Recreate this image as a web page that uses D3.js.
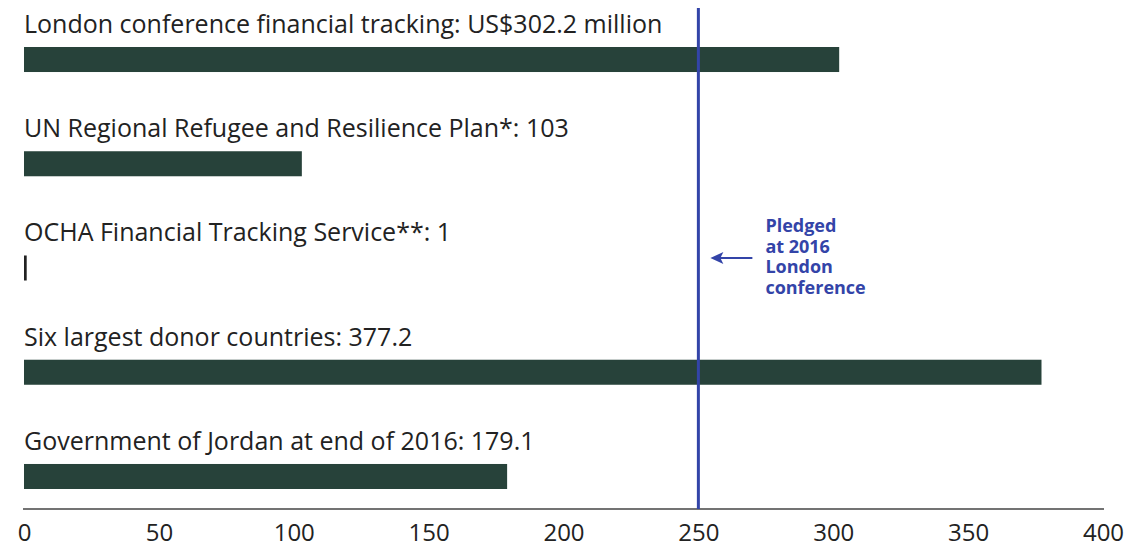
<!DOCTYPE html>
<html>
<head>
<meta charset="utf-8">
<script src="https://cdn.jsdelivr.net/npm/d3@7"></script>
<style>
  body { margin: 0; background: #fff; }
  svg { display: block; font-family: "Open Sans", sans-serif; }
</style>
</head>
<body>
<svg></svg>
<script>
// Chart size
const width = 1132, height = 550;
const svg = d3.select("svg").attr("width", width).attr("height", height);

// Data
const categories = [
    "London conference financial tracking",
    "UN Regional Refugee and Resilience Plan*",
    "OCHA Financial Tracking Service**",
    "Six largest donor countries",
    "Government of Jordan at end of 2016"
];
const values = [302.2, 103, 1, 377.2, 179.1];
const valueLabels = ["US$302.2 million", "103", "1", "377.2", "179.1"];
const xTicks = [0, 50, 100, 150, 200, 250, 300, 350, 400];
const pledged = 250;
const noteLines = ["Pledged", "at 2016", "London", "conference"];

const data = categories.map((c, i) => ({ name: c, value: values[i], label: valueLabels[i] }));

// Scales
const x = d3.scaleLinear().domain([0, 400]).range([24, 1103]);
const y = d3.scaleBand()
    .domain(categories)
    .range([47, 489])
    .paddingInner(0.76)
    .paddingOuter(0);

const axisY = 509;

// Bars
svg.selectAll("rect.bar")
    .data(data)
    .enter().append("rect")
    .attr("class", "bar")
    .attr("x", x(0))
    .attr("y", d => y(d.name))
    .attr("width", d => Math.max(2, x(d.value) - x(0)))
    .attr("height", y.bandwidth())
    .attr("fill", d => d.value < 5 ? "#222" : "#27423a");

// Labels above bars
svg.selectAll("text.cat")
    .data(data)
    .enter().append("text")
    .attr("class", "cat")
    .attr("x", x(0))
    .attr("y", d => y(d.name) - 14)
    .attr("font-size", "25px")
    .attr("fill", "#222")
    .text(d => d.name + ": " + d.label);

// Axis
const axis = d3.axisBottom(x).tickValues(xTicks).tickSize(0).tickPadding(15);
const g = svg.append("g").attr("transform", `translate(0,${axisY})`).call(axis);
g.select(".domain").attr("stroke", "#444").attr("stroke-width", 1.5).attr("d", `M${x(0) - 1},0H${x(400) + 1}`);
g.selectAll(".tick text")
    .attr("font-size", "24px")
    .attr("font-family", "\"Open Sans\", sans-serif")
    .attr("fill", "#222");

// Pledged line
const blue = "#3344a8";
svg.append("line")
    .attr("x1", x(pledged)).attr("x2", x(pledged))
    .attr("y1", 8).attr("y2", axisY)
    .attr("stroke", blue)
    .attr("stroke-width", 3);

// Arrow pointing at the line
const ax = x(pledged) + 12, ay = 258;
svg.append("line")
    .attr("x1", x(pledged) + 54).attr("x2", ax + 6)
    .attr("y1", ay).attr("y2", ay)
    .attr("stroke", blue)
    .attr("stroke-width", 2);
svg.append("path")
    .attr("d", `M${ax},${ay}L${ax + 13},${ay - 6}L${ax + 10},${ay}L${ax + 13},${ay + 6}Z`)
    .attr("fill", blue);

// Note
svg.append("text")
    .attr("x", x(pledged) + 67)
    .attr("y", 232)
    .attr("font-size", "18px")
    .attr("font-weight", "bold")
    .attr("fill", blue)
    .selectAll("tspan")
    .data(noteLines)
    .enter().append("tspan")
    .attr("x", x(pledged) + 67)
    .attr("dy", (d, i) => i === 0 ? 0 : 20.5)
    .text(d => d);
</script>
</body>
</html>
